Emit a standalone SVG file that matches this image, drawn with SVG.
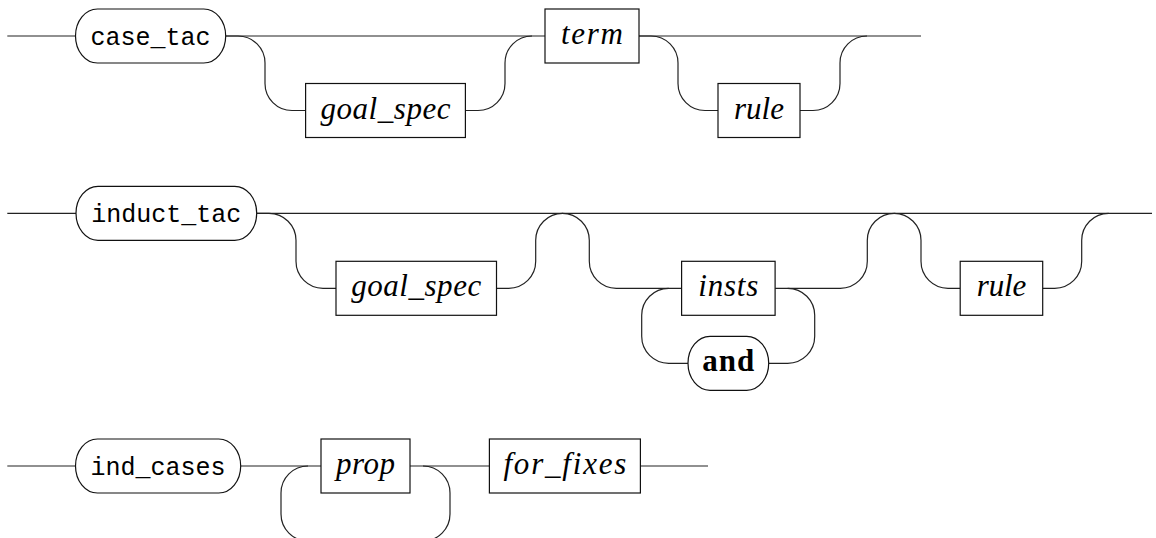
<svg xmlns="http://www.w3.org/2000/svg" width="1156" height="538" viewBox="0 0 1156 538">
<style>
  rect { fill: #fff; stroke: #111; stroke-width: 1.2; }
  .conn path { fill: none; stroke: #222; stroke-width: 1.2; }
  .tt { font-family: "Liberation Mono", "DejaVu Sans Mono", monospace; font-size: 25px; text-anchor: middle; fill: #000; }
  .it { font-family: "Liberation Serif", "DejaVu Serif", serif; font-style: italic; font-size: 31px; text-anchor: middle; fill: #000; }
  .bf { font-family: "Liberation Serif", "DejaVu Serif", serif; font-weight: bold; font-size: 31px; text-anchor: middle; fill: #000; }
</style>
<rect x="0" y="0" width="1156" height="538" style="fill:#fff;stroke:none"/>
<g class="conn" id="connectors">
  <!-- row 1 -->
  <path d="M7.3 36 H75.5 M225.7 36 H545 M639 36 H921"/>
  <path d="M225.7 36 H238 A27 27 0 0 1 265 63 V83.5 A27 27 0 0 0 292 110.5 H305.6"/>
  <path d="M465.4 110.5 H478 A27 27 0 0 0 505 83.5 V63 A27 27 0 0 1 532 36"/>
  <path d="M639 36 H651 A27 27 0 0 1 678 63 V83.5 A27 27 0 0 0 705 110.5 H718"/>
  <path d="M800 110.5 H813 A27 27 0 0 0 840 83.5 V63 A27 27 0 0 1 867 36"/>
  <!-- row 2 -->
  <path d="M7.3 213.3 H76 M256.7 213.3 H1152"/>
  <path d="M256.7 213.3 H269 A27 27 0 0 1 296 240.3 V261.3 A27 27 0 0 0 323 288.3 H336"/>
  <path d="M496.5 288.3 H508.7 A27 27 0 0 0 535.7 261.3 V240.3 A27 27 0 0 1 562.7 213.3"/>
  <path d="M562.3 213.3 A27 27 0 0 1 589.3 240.3 V261.3 A27 27 0 0 0 616.3 288.3 H681.6"/>
  <path d="M775.1 288.3 H840.3 A27 27 0 0 0 867.3 261.3 V240.3 A27 27 0 0 1 894.3 213.3"/>
  <path d="M668.7 288.3 A27 27 0 0 0 641.7 315.3 V336.3 A27 27 0 0 0 668.7 363.3 H688"/>
  <path d="M768.7 363.3 H787.7 A27 27 0 0 0 814.7 336.3 V315.3 A27 27 0 0 0 787.7 288.3"/>
  <path d="M894 213.3 A27 27 0 0 1 921 240.3 V261.3 A27 27 0 0 0 948 288.3 H960.2"/>
  <path d="M1042.7 288.3 H1054.7 A27 27 0 0 0 1081.7 261.3 V240.3 A27 27 0 0 1 1108.7 213.3"/>
  <!-- row 3 -->
  <path d="M7.3 466 H75.5 M240.7 466 H321 M410 466 H489.4 M640.4 466 H708"/>
  <path d="M308 466 A27 27 0 0 0 281 493 V514 A27 27 0 0 0 308 541 H423 A27 27 0 0 0 450 514 V493 A27 27 0 0 0 423 466"/>
</g>
<g id="case_tac"><rect x="75.5" y="9" width="150.2" height="54" rx="22" ry="27"/><text class="tt" x="150.6" y="44.5">case_tac</text></g>
<g id="goal_spec_1"><rect x="305.6" y="83.5" width="159.8" height="54"/><text class="it" x="385.5" y="118.5" textLength="130">goal_spec</text></g>
<g id="term"><rect x="545" y="9" width="94" height="54"/><text class="it" x="592" y="44" textLength="62">term</text></g>
<g id="rule_1"><rect x="718" y="83.5" width="82" height="54"/><text class="it" x="759" y="118.5" textLength="50">rule</text></g>
<g id="induct_tac"><rect x="76" y="186.3" width="180.7" height="54" rx="22" ry="27"/><text class="tt" x="166.3" y="221.8">induct_tac</text></g>
<g id="goal_spec_2"><rect x="336" y="261.3" width="160.5" height="54"/><text class="it" x="416.2" y="296.3" textLength="130">goal_spec</text></g>
<g id="insts"><rect x="681.6" y="261.3" width="93.5" height="54"/><text class="it" x="728.3" y="296.3" textLength="60">insts</text></g>
<g id="and"><rect x="688" y="336.3" width="80.7" height="54" rx="22" ry="27"/><text class="bf" x="728.3" y="370.5" textLength="52">and</text></g>
<g id="rule_2"><rect x="960.2" y="261.3" width="82.5" height="54"/><text class="it" x="1001.5" y="296.3" textLength="49.5">rule</text></g>
<g id="ind_cases"><rect x="75.5" y="439" width="165.2" height="54" rx="22" ry="27"/><text class="tt" x="158.1" y="474.5">ind_cases</text></g>
<g id="prop"><rect x="321" y="439" width="89" height="54"/><text class="it" x="365.5" y="474" textLength="59">prop</text></g>
<g id="for_fixes"><rect x="489.4" y="439" width="151" height="54"/><text class="it" x="564.9" y="474" textLength="123">for_fixes</text></g>
</svg>
